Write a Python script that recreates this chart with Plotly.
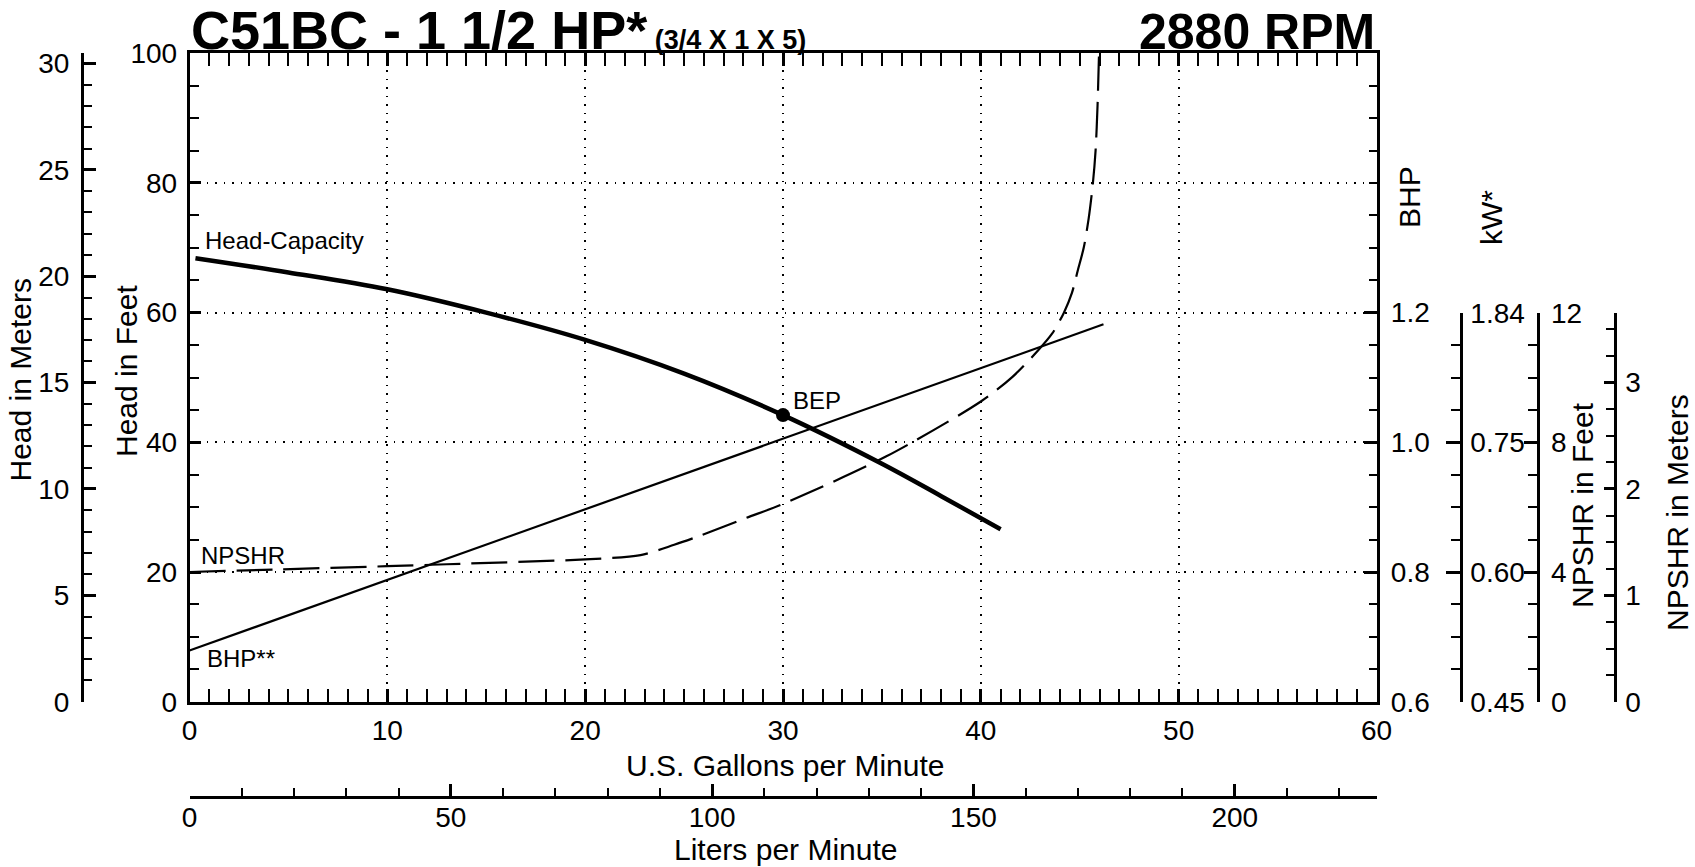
import numpy as np
import plotly.graph_objects as go

# curve data (flow in US gpm)
hc_gpm = [0.3, 5, 10, 15, 20, 25, 30, 35, 38, 41]
hc_head_ft = [68.4, 66.2, 63.6, 60.0, 55.8, 50.6, 44.2, 36.7, 31.7, 26.6]

bhp_gpm = [0, 46.2]
bhp_vals = [0.679, 1.182]

npshr_gpm = [0, 4.5, 10, 13, 20, 22.8, 24.5, 25.8, 28.1, 30, 35.2, 40, 41.6, 42.9,
             43.6, 44.2, 44.6, 44.9, 45.2, 45.45, 45.65, 45.8, 45.9, 45.97]
npshr_ft = [4.0, 4.08, 4.18, 4.24, 4.39, 4.52, 4.84, 5.12, 5.66, 6.1, 7.56, 9.26, 10.02, 10.84,
            11.35, 12.0, 12.6, 13.3, 14.0, 14.9, 15.9, 17.0, 18.4, 19.9]

bep_gpm = [30]
bep_head_ft = [44.2]

bhp_ticks = [0.6, 0.8, 1.0, 1.2]
kw_ticks = [0.45, 0.60, 0.75, 0.90]
kw_labels = ['0.45', '0.60', '0.75', '1.84']

W, H = 1695, 867
FONT = 'Liberation Sans, Arial, Helvetica, sans-serif'
LPG = 3.78541
M_PER_FT = 0.3048

xd = [189.5 / W, 1376.5 / W]
yd = [1 - 701.7 / H, 1 - 53.3 / H]
yd_small = [yd[0], 1 - 312.7 / H]

fig = go.Figure()

# head-capacity curve
fig.add_trace(go.Scatter(x=hc_gpm, y=hc_head_ft, mode='lines', line=dict(color='black', width=4.5, shape='spline'),
                         showlegend=False, hoverinfo='skip'))
fig.add_trace(go.Scatter(x=bep_gpm, y=bep_head_ft, mode='markers', marker=dict(color='black', size=14),
                         showlegend=False, hoverinfo='skip'))
# BHP line
fig.add_trace(go.Scatter(x=bhp_gpm, y=bhp_vals, yaxis='y3', mode='lines', line=dict(color='black', width=2.2),
                         showlegend=False, hoverinfo='skip'))
# NPSHR dashed
fig.add_trace(go.Scatter(x=npshr_gpm, y=npshr_ft, yaxis='y7', mode='lines',
                         line=dict(color='black', width=2.2, dash='36px,11px', shape='spline', smoothing=0.8),
                         showlegend=False, hoverinfo='skip'))
# placeholders so the extra scales get drawn
fig.add_trace(go.Scatter(x=[None], y=[None], yaxis='y2', showlegend=False, hoverinfo='skip'))
for ax in ['y4', 'y5', 'y6']:
    fig.add_trace(go.Scatter(x=[None], y=[None], xaxis='x3', yaxis=ax, showlegend=False, hoverinfo='skip'))
fig.add_trace(go.Scatter(x=[None], y=[None], xaxis='x2', showlegend=False, hoverinfo='skip'))

tickfont = dict(family=FONT, size=28, color='black')
common = dict(showline=True, linecolor='black', linewidth=2.5, zeroline=False, tickcolor='black',
              tickfont=tickfont, ticks='inside', automargin=False)
grid = dict(showgrid=True, gridcolor='black', gridwidth=1.5, griddash='1.5px,7px')

fig.update_layout(
    template='none',
    width=W, height=H,
    margin=dict(l=0, r=0, t=0, b=0, autoexpand=False),
    paper_bgcolor='white', plot_bgcolor='rgba(0,0,0,0)',
    xaxis=dict(domain=xd, range=[0, 60], dtick=10, ticklen=13, tickwidth=2.5, mirror='allticks',
               minor=dict(dtick=1, ticklen=8, tickwidth=1.5, tickcolor='black', ticks='inside'),
               ticklabelstandoff=2, **grid, **common),
    xaxis2=dict(overlaying='x', anchor='free', position=1 - 797.3 / H, side='bottom',
                range=[0, 60 * LPG], dtick=50, ticklen=13, tickwidth=2.5, showgrid=False,
                minor=dict(dtick=10, ticklen=9, tickwidth=1.5, tickcolor='black', ticks='inside'),
                ticklabelstandoff=-6, **common),
    xaxis3=dict(domain=xd, range=[0, 60], visible=False, anchor='y4'),
    yaxis=dict(domain=yd, range=[0, 100], dtick=20, ticklen=12, tickwidth=3,
               minor=dict(dtick=5, ticklen=10, tickwidth=1.5, tickcolor='black', ticks='inside'),
               ticklabelstandoff=4, **grid, **common),
    yaxis2=dict(overlaying='y', anchor='free', position=81.7 / W, side='left',
                range=[0, 100 * M_PER_FT], dtick=5, ticklen=13, tickwidth=3, showgrid=False,
                minor=dict(dtick=1, ticklen=9, tickwidth=1.5, tickcolor='black', ticks='inside'),
                ticklabelstandoff=6, **common),
    yaxis3=dict(overlaying='y', anchor='x', side='right', range=[0.6, 1.6],
                tickmode='array', tickvals=bhp_ticks, tickformat='.1f', ticklen=13, tickwidth=3,
                showgrid=False,
                minor=dict(tickmode='array', tickvals=list(np.arange(0.65, 1.6, 0.05)), ticklen=8,
                           tickwidth=1.5, tickcolor='black', ticks='inside'),
                ticklabelstandoff=6, **common),
    yaxis4=dict(domain=yd_small, anchor='free', position=1461 / W, side='right', range=[0.45, 0.90],
                tickmode='array', tickvals=kw_ticks, ticktext=kw_labels, ticklen=14, tickwidth=3,
                showgrid=False,
                minor=dict(tickmode='array', tickvals=list(np.arange(0.45, 0.9, 0.0375)), ticklen=9,
                           tickwidth=1.5, tickcolor='black', ticks='inside'),
                ticklabelstandoff=2, **common),
    yaxis5=dict(overlaying='y4', anchor='free', position=1537.7 / W, side='right', range=[0, 12],
                dtick=4, ticklen=13, tickwidth=3, showgrid=False,
                minor=dict(dtick=1, ticklen=9, tickwidth=1.5, tickcolor='black', ticks='inside'),
                ticklabelstandoff=6, **common),
    yaxis6=dict(overlaying='y4', anchor='free', position=1615 / W, side='right', range=[0, 12 * M_PER_FT],
                dtick=1, ticklen=10, tickwidth=3, showgrid=False,
                minor=dict(dtick=0.25, ticklen=8, tickwidth=1.5, tickcolor='black', ticks='inside'),
                ticklabelstandoff=3, **common),
    yaxis7=dict(overlaying='y', range=[0, 20], visible=False),
)

ann_font = dict(family=FONT, size=30, color='black')
lab_font = dict(family=FONT, size=24, color='black')
annots = [
    dict(text='Head in Meters', x=19.5 / W, y=1 - 380 / H, textangle=-90),
    dict(text='Head in Feet', x=126 / W, y=1 - 371 / H, textangle=-90),
    dict(text='BHP', x=1409 / W, y=1 - 197 / H, textangle=-90),
    dict(text='kW*', x=1492 / W, y=1 - 218 / H, textangle=-90),
    dict(text='NPSHR in Feet', x=1582 / W, y=1 - 505 / H, textangle=-90),
    dict(text='NPSHR in Meters', x=1677 / W, y=1 - 513 / H, textangle=-90),
    dict(text='U.S. Gallons per Minute', x=785 / W, y=1 - 765 / H),
    dict(text='Liters per Minute', x=785 / W, y=1 - 849 / H),
]
for a in annots:
    fig.add_annotation(xref='paper', yref='paper', showarrow=False, xanchor='center', yanchor='middle',
                       font=ann_font, **a)

# curve labels in data coordinates
for txt, gx, hy in [('Head-Capacity', 0.67, 71.2), ('BEP', 30.4, 46.4), ('NPSHR', 0.5, 22.5), ('BHP**', 0.8, 6.6)]:
    fig.add_annotation(x=gx, y=hy, xref='x', yref='y', text=txt, showarrow=False, xanchor='left',
                       yanchor='middle', font=lab_font)

fig.add_annotation(xref='paper', yref='paper', x=189 / W, y=1 - 62 / H, xanchor='left', yanchor='bottom',
                   showarrow=False, font=dict(family=FONT, size=54, color='black'),
                   text="<b>C51BC - 1 1/2 HP*</b><b><span style='font-size:27px'> (3/4 X 1 X 5)</span></b>")
fig.add_annotation(xref='paper', yref='paper', x=1377 / W, y=1 - 62 / H, xanchor='right', yanchor='bottom',
                   showarrow=False, font=dict(family=FONT, size=50, color='black'), text='<b>2880 RPM</b>')

fig.write_html('out.html', config={'displayModeBar': False},
               post_script="document.body.style.margin='0';document.body.style.overflow='hidden';")
